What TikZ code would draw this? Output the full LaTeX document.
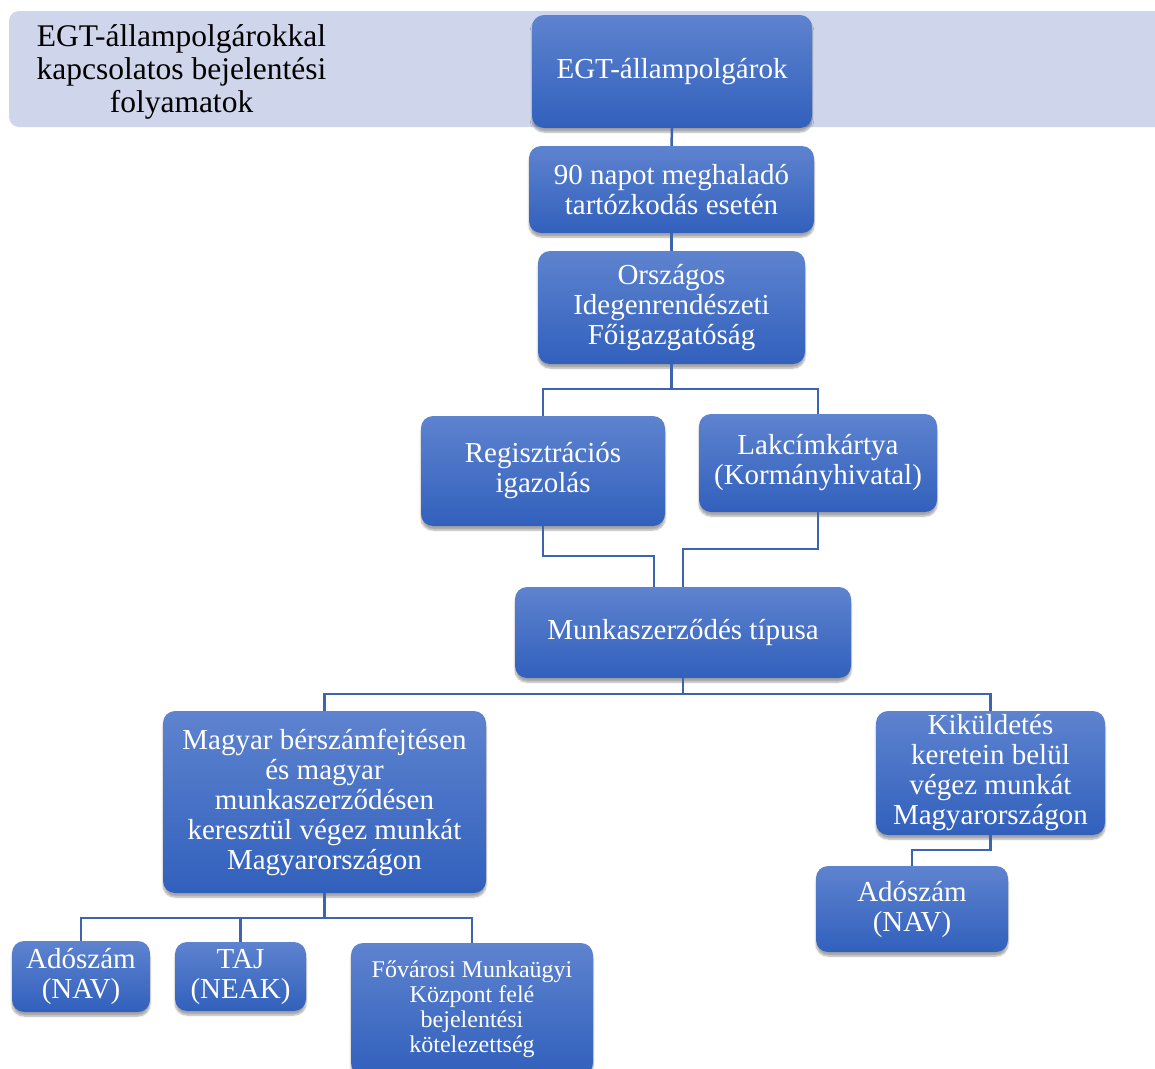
\documentclass[tikz,border=0pt]{standalone}
\usepackage{fontspec}
\setmainfont{Liberation Serif}
\usetikzlibrary{shadows.blur}

\definecolor{bandfill}{RGB}{207,213,234}
\definecolor{boxtop}{RGB}{94,131,207}
\definecolor{boxbot}{RGB}{49,96,188}
\definecolor{conn}{RGB}{60,100,176}

\tikzset{
  bluebox/.style={rectangle, rounded corners=12pt, top color=boxtop, bottom color=boxbot,
    text=white, align=center, inner sep=2pt, font=\fontsize{29}{30}\selectfont,
    blur shadow={shadow xshift=0pt, shadow yshift=-4pt, shadow blur steps=6, shadow opacity=35}},
  link/.style={draw=conn, line width=2.5pt}
}

\begin{document}
\begin{tikzpicture}[x=1pt, y=-1pt]
    \clip (0,0) rectangle (1155,1068);

    % title band
    \fill[bandfill, rounded corners=10pt] (9,11) rectangle (1180,127);
    \node[align=center, font=\fontsize{31.5}{33}\selectfont] (title) at (181.5,71.5)
        {EGT-állampolgárokkal\\kapcsolatos bejelentési\\folyamatok};

    \node[bluebox, minimum width=280pt, minimum height=113pt] (egt) at (672,71.5) {EGT-állampolgárok};
    \node[bluebox, minimum width=285pt, minimum height=87pt] (napot) at (671.5,189.5) {90 napot meghaladó\\tartózkodás esetén};
    \node[bluebox, minimum width=267pt, minimum height=113pt] (orsz) at (671.5,307.5) {Országos\\Idegenrendészeti\\Főigazgatóság};
    \node[bluebox, minimum width=244pt, minimum height=110pt] (reg) at (543,471) {Regisztrációs\\igazolás};
    \node[bluebox, minimum width=238pt, minimum height=98pt] (lak) at (818,463) {Lakcímkártya\\(Kormányhivatal)};
    \node[bluebox, minimum width=336pt, minimum height=91pt] (munka) at (683,632.5) {Munkaszerződés típusa};
    \node[bluebox, minimum width=323pt, minimum height=182pt] (magyar) at (324.5,802)
        {Magyar bérszámfejtésen\\és magyar\\munkaszerződésen\\keresztül végez munkát\\Magyarországon};
    \node[bluebox, minimum width=229pt, minimum height=124pt] (kik) at (990.5,773)
        {Kiküldetés\\keretein belül\\végez munkát\\Magyarországon};
    \node[bluebox, minimum width=192pt, minimum height=86pt] (adoR) at (912,909) {Adószám\\(NAV)};
    \node[bluebox, minimum width=138pt, minimum height=71pt] (adoL) at (81,976.5) {Adószám\\(NAV)};
    \node[bluebox, minimum width=131pt, minimum height=69pt] (taj) at (240.5,976.5) {TAJ\\(NEAK)};
    \node[bluebox, minimum width=242pt, minimum height=132pt, font=\fontsize{24}{25}\selectfont] (fov) at (472,1009)
        {Fővárosi Munkaügyi\\Központ felé\\bejelentési\\kötelezettség};

    % tree lines
    \draw[link] (egt.south) -- (napot.north);
    \draw[link] (napot.south) -- (orsz.north);
    \draw[link] (orsz.south) -- ++(0,25) -| (reg.north);
    \draw[link] (orsz.south) -- ++(0,25) -| (lak.north);
    \draw[link] (reg.south) -- ++(0,30) -| ([xshift=-29pt]munka.north);
    \draw[link] (lak.south) -- ++(0,37) -| (munka.north);
    \draw[link] (munka.south) -- ++(0,16) -| (magyar.north);
    \draw[link] (munka.south) -- ++(0,16) -| (kik.north);
    \draw[link] (magyar.south) -- ++(0,25) -| (adoL.north);
    \draw[link] (magyar.south) -- ++(0,25) -| (taj.north);
    \draw[link] (magyar.south) -- ++(0,25) -| (fov.north);
    \draw[link] (kik.south) -- ++(0,15) -| (adoR.north);
\end{tikzpicture}
\end{document}
